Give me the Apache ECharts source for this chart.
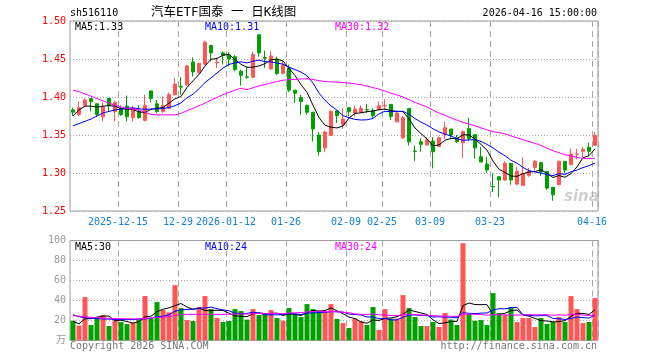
<!DOCTYPE html>
<html><head><meta charset="utf-8">
<script src="https://cdn.jsdelivr.net/npm/echarts@6/dist/echarts.min.js"></script>
<style>html,body{margin:0;padding:0;background:#fff}#c{width:660px;height:360px}</style>
</head><body><div id="c"></div>
<script>
const dates = [
'2025-12-03','2025-12-04','2025-12-05','2025-12-08','2025-12-09','2025-12-10','2025-12-11','2025-12-12','2025-12-15','2025-12-16','2025-12-17','2025-12-18','2025-12-19','2025-12-22','2025-12-23','2025-12-24','2025-12-25','2025-12-26','2025-12-29','2025-12-30','2025-12-31',
'2026-01-05','2026-01-06','2026-01-07','2026-01-08','2026-01-09','2026-01-12','2026-01-13','2026-01-14','2026-01-15','2026-01-16','2026-01-19','2026-01-20','2026-01-21','2026-01-22','2026-01-23','2026-01-26','2026-01-27','2026-01-28','2026-01-29','2026-01-30',
'2026-02-02','2026-02-03','2026-02-04','2026-02-05','2026-02-06','2026-02-09','2026-02-10','2026-02-11','2026-02-12','2026-02-13','2026-02-24','2026-02-25','2026-02-26','2026-02-27',
'2026-03-02','2026-03-03','2026-03-04','2026-03-05','2026-03-06','2026-03-09','2026-03-10','2026-03-11','2026-03-12','2026-03-13','2026-03-16','2026-03-17','2026-03-18','2026-03-19','2026-03-20','2026-03-23','2026-03-24','2026-03-25','2026-03-26','2026-03-27','2026-03-30','2026-03-31',
'2026-04-01','2026-04-02','2026-04-03','2026-04-07','2026-04-08','2026-04-09','2026-04-10','2026-04-13','2026-04-14','2026-04-15','2026-04-16'];
const opens = [1.383,1.377,1.389,1.398,1.391,1.374,1.398,1.381,1.385,1.388,
1.373,1.381,1.369,1.408,1.391,1.381,1.385,1.403,1.414,1.416,
1.446,1.432,1.443,1.468,1.445,1.458,1.455,1.453,1.434,1.4265,
1.426,1.482,1.452,1.437,1.4495,1.431,1.438,1.409,1.3995,1.389,
1.380,1.350,1.333,1.3495,1.3816,1.364,1.386,1.379,1.3807,1.3835,
1.3816,1.384,1.3884,1.3903,1.3675,1.3464,1.385,1.329,1.341,1.3368,
1.342,1.335,1.3508,1.3578,1.3464,1.340,1.3583,1.3504,1.3215,1.3118,
1.2822,1.2951,1.2907,1.3127,1.2855,1.2837,1.2969,1.3074,1.3136,1.3021,
1.2811,1.2846,1.3153,1.3109,1.3248,1.3285,1.3338,1.3364];
const closes = [1.380,1.386,1.396,1.394,1.377,1.387,1.389,1.393,1.377,1.374,
1.385,1.373,1.389,1.398,1.381,1.389,1.403,1.417,1.413,1.441,
1.433,1.444,1.472,1.458,1.446,1.455,1.450,1.436,1.4285,1.426,
1.456,1.458,1.451,1.454,1.431,1.4425,1.409,1.405,1.394,1.380,
1.358,1.328,1.354,1.381,1.3754,1.371,1.3807,1.384,1.385,1.383,
1.3754,1.3886,1.3886,1.3745,1.379,1.3728,1.341,1.3285,1.3377,1.3438,
1.328,1.3464,1.3596,1.350,1.3412,1.3543,1.3452,1.3329,1.3144,1.3039,
1.2819,1.2907,1.3127,1.2907,1.3021,1.2995,1.3021,1.3153,1.3013,1.2802,
1.2714,1.3153,1.3039,1.325,1.325,1.3311,1.3285,1.3496];
const lows = [1.375,1.375,1.387,1.381,1.374,1.368,1.381,1.368,1.375,1.368,
1.368,1.371,1.368,1.393,1.379,1.379,1.384,1.402,1.403,1.415,
1.427,1.431,1.442,1.447,1.438,1.443,1.440,1.434,1.415,1.424,
1.425,1.453,1.438,1.436,1.429,1.430,1.4065,1.392,1.3767,1.3767,
1.3415,1.323,1.3275,1.3486,1.3658,1.358,1.3745,1.3745,1.379,1.379,
1.371,1.383,1.383,1.370,1.3666,1.3447,1.336,1.3157,1.328,1.3368,
1.306,1.335,1.3447,1.3438,1.3394,1.320,1.3417,1.3188,1.3144,1.3004,
1.275,1.268,1.2898,1.2846,1.2837,1.2837,1.2951,1.3021,1.296,1.2776,
1.2635,1.2846,1.2995,1.3109,1.318,1.3206,1.3224,1.3355];
const highs = [1.386,1.394,1.398,1.398,1.392,1.393,1.399,1.395,1.389,1.402,
1.388,1.389,1.403,1.408,1.396,1.401,1.406,1.425,1.426,1.442,
1.452,1.445,1.474,1.468,1.452,1.460,1.459,1.455,1.436,1.440,
1.460,1.482,1.461,1.460,1.453,1.447,1.4425,1.409,1.403,1.390,
1.380,1.354,1.3556,1.382,1.382,1.385,1.386,1.3886,1.389,1.391,
1.385,1.394,1.397,1.3903,1.3807,1.3745,1.385,1.336,1.3456,1.3473,
1.3473,1.348,1.3675,1.3578,1.350,1.356,1.3724,1.3504,1.3346,1.3215,
1.2995,1.2951,1.3153,1.3127,1.3083,1.3206,1.3065,1.3171,1.3136,1.3021,
1.2811,1.3162,1.3153,1.332,1.332,1.3338,1.340,1.354];
const volumes = [19.7,14.7,43.3,15.3,23,25.3,14.3,19.7,18.3,16.3,
17.7,21,44.3,21.7,38.3,30.3,28,55.3,32.3,20.3,
19.3,33.3,44.3,31.3,22.3,18.3,19.3,31.3,29.3,20.7,
31.3,25.3,27,30.3,22.3,19.7,32.3,26.3,23.3,36.3,
31.3,29.3,29,36.3,21.5,17.3,12.3,21.5,19.2,15.3,
33.3,10.3,31.3,21.8,21.8,45.3,32.3,23.3,14.3,14.3,
18.3,13.3,27.3,20.8,15.3,97.3,26.3,19.5,20.3,15.3,
47.3,27.3,25.3,33.3,18.3,22.3,22.3,13.3,22.3,16.3,
18.3,23.3,18.3,44.3,31.3,17.3,18.3,42.3];
// moving-average values for the first days (earlier data not shown)
const ma5Head = [1.375,1.383,1.388,1.388];
const ma10Head = [1.362,1.365,1.368,1.371,1.375,1.379,1.381,1.383,1.384];
const ma30Head = [1.409,1.407,1.404,1.401,1.398,1.395,1.392,1.389,1.387,1.385,1.384,1.383,1.380,1.377,1.3765,1.3765,1.3765,1.3765,1.3785,1.382,1.385,1.3885,1.392,1.396,1.3995,1.403,1.406,1.409,1.4115];
const vma5Head = [19,16.5,21.7,21.7];
const vma10Head = [25.7,23.7,22.5,22,21.7,21.4,21.2,21,20.8];
const vma30Head = [24.8,24.2,23.6,23,22.6,22.2,22,21.8,21.6,21.5,21.4,21.5,22,22.4,22.8,23.2,23.8,24.8,25.7,26,26,26,26,26,26,26,26.2,26.3,26.3];
const tickDates = ['2025-12-15','2025-12-29','2026-01-12','2026-01-26','2026-02-09','2026-02-25','2026-03-09','2026-03-23','2026-04-16'];
const tickTexts = ['2025-12-15','12-29','2026-01-12','01-26','02-09','02-25','03-09','03-23','04-16'];
const priceMaLabels = ['MA5:1.33','MA10:1.31','MA30:1.32'];
const volMaLabels = ['MA5:30','MA10:24','MA30:24'];
const headerCode = 'sh516110';
const headerTitle = '汽车ETF国泰 一 日K线图';
const headerTime = '2026-04-16 15:00:00';

function movingAvg(vals, n, head) {
  return vals.map((v, i) => {
    if (i < n - 1) return head[i];
    let s = 0;
    for (let k = i - n + 1; k <= i; k++) s += vals[k];
    return +(s / n).toFixed(4);
  });
}

const UP = '#ff5555', DOWN = '#00a000';
const MONO = 'DejaVu Sans Mono, Noto Sans CJK SC, monospace';
const tickIdx = new Set(tickDates.map(d => dates.indexOf(d)));
const showTick = (i) => tickIdx.has(i);

const kData = dates.map((d, i) => [opens[i], closes[i], lows[i], highs[i]]);
const volData = volumes.map((v, i) => ({ value: v, itemStyle: { color: closes[i] >= opens[i] ? UP : DOWN } }));

const chart = echarts.init(document.getElementById('c'), null, { renderer: 'canvas' });
const xBase = (gi, showLabel) => ({
  type: 'category', gridIndex: gi, data: dates, boundaryGap: true,
  axisLine: { show: false },
  axisTick: { show: false },
  axisLabel: {
    show: showLabel, interval: (i) => showTick(i), color: '#1383d8',
    fontFamily: MONO, fontSize: 10, margin: 6, padding: [0, 6, 0, 0],
    formatter: (v) => tickTexts[tickDates.indexOf(v)]
  },
  splitLine: { show: true, interval: (i) => showTick(i), lineStyle: { color: '#a8a8a8', type: [6, 4], width: 1 } }
});
const lineS = (name, data, color, xi, yi) => ({
  name, type: 'line', data, xAxisIndex: xi, yAxisIndex: yi, symbol: 'none',
  lineStyle: { color, width: 1 }, itemStyle: { color }, z: 5, silent: true
});
const txt = (x, y, text, color, extra) => Object.assign({
  type: 'text', x, y, silent: true,
  style: Object.assign({ text, fill: color, font: '10px ' + MONO, textVerticalAlign: 'middle' }, extra || {})
});

chart.setOption({
  animation: false,
  backgroundColor: '#fff',
  grid: [
    { left: 70, top: 21, width: 528, height: 190, show: true, borderColor: '#999', borderWidth: 1, outerBoundsMode: 'none' },
    { left: 70, top: 240.5, width: 528, height: 99.8, show: true, borderColor: '#999', borderWidth: 1, outerBoundsMode: 'none' }
  ],
  xAxis: [xBase(0, true), xBase(1, false)],
  yAxis: [
    { type: 'value', gridIndex: 0, min: 1.25, max: 1.50, interval: 0.05, scale: true,
      axisLine: { show: false }, axisTick: { show: false },
      axisLabel: { color: '#ff0000', fontFamily: MONO, fontSize: 10, margin: 4, formatter: v => v.toFixed(2) },
      splitLine: { lineStyle: { color: '#aaa', type: [1, 2] } } },
    { type: 'value', gridIndex: 1, min: 0, max: 100, interval: 20,
      axisLine: { show: false }, axisTick: { show: false },
      axisLabel: { color: '#999', fontFamily: MONO, fontSize: 10, margin: 4, formatter: v => v === 0 ? '万' : String(v) },
      splitLine: { lineStyle: { color: '#aaa', type: [1, 2] } } }
  ],
  series: [
    { type: 'candlestick', data: kData, xAxisIndex: 0, yAxisIndex: 0, barWidth: 4, silent: true,
      itemStyle: { color: UP, color0: DOWN, borderColor: UP, borderColor0: DOWN, borderWidth: 1 } },
    lineS('MA5', movingAvg(closes, 5, ma5Head), '#000', 0, 0),
    lineS('MA10', movingAvg(closes, 10, ma10Head), '#0000ff', 0, 0),
    lineS('MA30', movingAvg(closes, 30, ma30Head), '#ff00ff', 0, 0),
    { type: 'bar', data: volData, xAxisIndex: 1, yAxisIndex: 1, barWidth: 5, silent: true },
    lineS('VMA5', movingAvg(volumes, 5, vma5Head), '#000', 1, 1),
    lineS('VMA10', movingAvg(volumes, 10, vma10Head), '#0000ff', 1, 1),
    lineS('VMA30', movingAvg(volumes, 30, vma30Head), '#ff00ff', 1, 1)
  ],
  graphic: [
    txt(70, 13, headerCode, '#000'),
    txt(151, 13, headerTitle, '#000', { font: '12.5px ' + MONO }),
    txt(597, 13, headerTime, '#000', { textAlign: 'right' }),
    txt(75, 27, priceMaLabels[0], '#000'),
    txt(205, 27, priceMaLabels[1], '#0000ff'),
    txt(335, 27, priceMaLabels[2], '#ff00ff'),
    txt(75, 247, volMaLabels[0], '#000'),
    txt(205, 247, volMaLabels[1], '#0000ff'),
    txt(335, 247, volMaLabels[2], '#ff00ff'),
    txt(70, 346, 'Copyright 2026 SINA.COM', '#777'),
    txt(597, 346, 'http://finance.sina.com.cn', '#777', { textAlign: 'right' }),
    txt(564, 197, 'sina', 'rgba(170,170,170,0.55)', { font: 'italic bold 15px DejaVu Sans, sans-serif' })
  ]
});
</script></body></html>
